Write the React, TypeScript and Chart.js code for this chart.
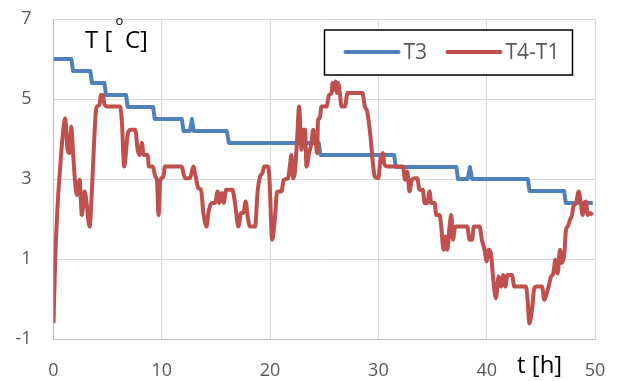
import { useEffect, useRef } from "react";
import { Chart, registerables } from "chart.js";

Chart.register(...registerables);

// ---- data ----
const seriesNames = ["T3", "T4-T1"];
const seriesColors = ["#4F81BD", "#C0504D"];

const hoursT3 = [
  0, 1.65, 1.8, 3.4, 3.55, 4.7, 4.85, 6.7, 6.85, 9.2, 9.35, 11.85, 12.0, 12.6, 12.78, 12.95,
  16.0, 16.2, 24.5, 24.65, 31.45, 31.6, 37.2, 37.35, 38.25, 38.45, 38.65, 43.8, 43.95, 47.15,
  47.3, 49.8,
];
const valuesT3 = [
  6.0, 6.0, 5.7, 5.7, 5.4, 5.4, 5.1, 5.1, 4.8, 4.8, 4.5, 4.5, 4.2, 4.2, 4.5, 4.2,
  4.2, 3.9, 3.9, 3.6, 3.6, 3.3, 3.3, 3.0, 3.0, 3.3, 3.0, 3.0, 2.7, 2.7,
  2.4, 2.4,
];

const hoursDiff = [
  0.0, 0.15, 0.37, 0.62, 0.87, 1.08, 1.3, 1.48, 1.64, 1.79, 2.0, 2.16, 2.41, 2.62, 2.87, 3.02,
  3.33, 3.55, 3.76, 3.95, 4.25, 4.38, 4.56, 4.72, 5.09, 6.16, 6.32, 6.53, 6.84, 7.09, 7.55,
  7.77, 7.95, 8.17, 8.32, 8.69, 8.81, 9.18, 9.4, 9.55, 9.7, 9.87, 10.15, 10.29, 11.83, 12.14,
  12.6, 12.91, 13.13, 13.37, 13.62, 13.84, 14.14, 14.3, 14.6, 14.91, 15.16, 15.31, 15.53,
  15.71, 15.93, 16.52, 16.76, 17.07, 17.32, 17.53, 17.75, 17.93, 18.15, 18.61, 18.86, 19.07,
  19.29, 19.47, 19.78, 19.93, 20.19, 20.43, 20.65, 21.05, 21.26, 21.66, 21.82, 21.97, 22.12,
  22.28, 22.49, 22.68, 22.9, 23.05, 23.23, 23.36, 23.6, 23.82, 23.97, 24.22, 24.34, 24.43,
  24.59, 24.74, 25.2, 25.45, 25.67, 25.76, 25.91, 26.04, 26.19, 26.28, 26.44, 26.59, 26.9,
  27.15, 28.53, 28.75, 28.96, 29.27, 29.52, 29.67, 29.98, 30.19, 30.41, 30.56, 30.87, 32.26,
  32.47, 32.66, 32.87, 33.09, 33.34, 33.58, 33.8, 34.11, 34.26, 34.51, 34.72, 34.88, 35.19,
  35.34, 35.65, 35.8, 36.02, 36.2, 36.36, 36.57, 36.73, 36.88, 37.1, 38.2, 38.42, 38.64,
  38.82, 39.34, 39.56, 39.8, 40.0, 40.17, 40.39, 40.61, 40.85, 41.1, 41.31, 41.53, 41.72,
  41.93, 42.33, 42.55, 43.62, 43.78, 43.93, 44.18, 44.4, 44.61, 45.1, 45.32, 45.54, 45.72,
  45.94, 46.15, 46.34, 46.55, 46.77, 46.95, 47.17, 47.32, 47.48, 47.69, 47.88, 48.0, 48.25,
  48.49, 48.65, 48.86, 49.02, 49.17, 49.32, 49.54, 49.79,
];
const valuesDiff = [
  -0.6, 0.9, 2.3, 3.3, 4.15, 4.52, 3.73, 3.65, 4.31, 3.73, 2.9, 2.6, 2.98, 2.1, 2.69, 2.48,
  1.81, 2.73, 3.98, 4.77, 4.86, 5.1, 5.1, 4.86, 4.81, 4.81, 4.4, 3.31, 4.1, 4.23, 4.23,
  3.73, 3.6, 3.9, 3.6, 3.6, 3.31, 3.31, 3.06, 2.98, 2.1, 2.98, 3.06, 3.31, 3.31, 3.02,
  3.02, 3.31, 3.06, 2.77, 2.73, 2.15, 1.81, 2.15, 2.4, 2.4, 2.69, 2.4, 2.65,
  2.4, 2.73, 2.73, 2.4, 1.81, 2.15, 2.15, 2.44, 2.06, 1.81, 1.81, 2.73, 3.06,
  3.15, 3.31, 3.31, 3.06, 1.48, 1.98, 2.69, 2.69, 2.98, 3.02, 3.31, 3.6, 3.02,
  3.15, 3.98, 4.81, 3.73, 4.23, 4.23, 3.31, 3.65, 3.9, 4.23, 3.9, 3.65, 4.48,
  4.52, 4.81, 4.81, 5.1, 5.15, 5.4, 5.23, 5.44, 5.15, 5.4, 5.15, 4.81, 4.81,
  5.15, 5.15, 4.81, 4.69, 4.06, 3.31, 3.06, 3.02, 3.48, 3.65, 3.36, 3.31, 3.31,
  2.98, 3.19, 2.69, 2.98, 3.02, 3.02, 2.73, 2.73, 2.4, 2.4, 2.69, 2.4, 2.4,
  2.1, 2.1, 1.81, 1.23, 1.56, 1.23, 1.81, 2.1, 1.48, 1.81, 1.81, 1.48, 1.48,
  1.81, 1.81, 1.48, 1.23, 0.94, 1.23, 1.14, 0.48, 0.02, 0.56, 0.31, 0.6, 0.31,
  0.6, 0.6, 0.31, 0.31, -0.02, -0.61, -0.27, 0.27, 0.31, 0.31, -0.02, 0.14, 0.31,
  0.56, 0.64, 0.98, 0.64, 1.23, 0.9, 1.14, 1.73, 1.81, 1.98, 2.1, 2.31, 2.4,
  2.69, 2.48, 2.1, 2.4, 2.44, 2.1, 2.15, 2.1,
];

const xTickValues = [0, 10, 20, 30, 40, 50];
const yTickValues = [-1, 1, 3, 5, 7];
const yTitleMain = "T [";
const yTitleSup = "o";
const yTitleEnd = "C]";
const xTitle = "t [h]";

const FONT = '"Open Sans", "Liberation Sans", sans-serif';

const overlayPlugin = {
  id: "overlay",
  afterDraw(chart: any) {
    const ctx = chart.ctx as CanvasRenderingContext2D;
    const { left, top, right, bottom } = chart.chartArea;
    ctx.save();
    // axis titles
    ctx.fillStyle = "#000000";
    ctx.textBaseline = "alphabetic";
    ctx.textAlign = "left";
    ctx.font = `24px ${FONT}`;
    ctx.fillText(yTitleMain, left + 31.5, top + 29);
    ctx.fillText(yTitleEnd, left + 71.5, top + 29);
    ctx.font = `13px ${FONT}`;
    ctx.fillText(yTitleSup, left + 62, top + 6);
    ctx.font = `24px ${FONT}`;
    ctx.fillText(xTitle, right - 78, bottom + 34);

    // legend box
    const bx = left + 271;
    const by = top + 11;
    const bw = 248;
    const bh = 45;
    ctx.fillStyle = "#ffffff";
    ctx.fillRect(bx, by, bw, bh);
    ctx.strokeStyle = "#000000";
    ctx.lineWidth = 1.5;
    ctx.strokeRect(bx, by, bw, bh);
    const ly = by + 22;
    const items = chart.data.datasets;
    const starts = [bx + 21, bx + 123];
    ctx.font = `21px ${FONT}`;
    ctx.textBaseline = "middle";
    items.forEach((ds: any, i: number) => {
      const sx = starts[i];
      ctx.strokeStyle = ds.borderColor;
      ctx.lineWidth = 4;
      ctx.lineCap = "round";
      ctx.beginPath();
      ctx.moveTo(sx, ly);
      ctx.lineTo(sx + 53, ly);
      ctx.stroke();
      ctx.fillStyle = "#595959";
      ctx.fillText(ds.label, sx + 58, ly + 1);
    });
    ctx.restore();
  },
};

export default function App() {
  const canvasRef = useRef<HTMLCanvasElement | null>(null);

  useEffect(() => {
    const canvas = canvasRef.current;
    if (!canvas) return;
    const chart = new Chart(canvas, {
      type: "line",
      data: {
        datasets: [
          {
            label: seriesNames[0],
            data: hoursT3.map((t, i) => ({ x: t, y: valuesT3[i] })),
            borderColor: seriesColors[0],
            borderWidth: 4,
            pointRadius: 0,
            tension: 0,
            fill: false,
            order: 2,
            borderJoinStyle: "round",
          },
          {
            label: seriesNames[1],
            data: hoursDiff.map((t, i) => ({ x: t, y: valuesDiff[i] })),
            borderColor: seriesColors[1],
            borderWidth: 4,
            pointRadius: 0,
            cubicInterpolationMode: "monotone",
            fill: false,
            order: 1,
            borderJoinStyle: "round",
          },
        ],
      },
      options: {
        animation: false,
        responsive: false,
        maintainAspectRatio: false,
        layout: { padding: { left: 0, right: 27, top: 19, bottom: 0 } },
        plugins: { legend: { display: false }, tooltip: { enabled: false } },
        scales: {
          x: {
            type: "linear",
            min: 0,
            max: 50,
            afterBuildTicks: (scale: any) => {
              scale.ticks = xTickValues.map((v) => ({ value: v }));
            },
            afterFit: (scale: any) => {
              scale.height = 42;
              scale.paddingLeft = 0;
              scale.paddingRight = 0;
            },
            grid: { color: "#D9D9D9", lineWidth: 1, drawTicks: false },
            border: { color: "#BFBFBF", width: 1 },
            ticks: {
              color: "#595959",
              font: { family: FONT, size: 18 },
              padding: 21,
              maxRotation: 0,
            },
          },
          y: {
            type: "linear",
            min: -1,
            max: 7,
            afterBuildTicks: (scale: any) => {
              scale.ticks = yTickValues.map((v) => ({ value: v }));
            },
            afterFit: (scale: any) => {
              scale.width = 53.5;
              scale.paddingTop = 0;
              scale.paddingBottom = 0;
            },
            grid: { color: "#D9D9D9", lineWidth: 1, drawTicks: false },
            border: { color: "#BFBFBF", width: 1 },
            ticks: {
              color: "#595959",
              font: { family: FONT, size: 18 },
              padding: 22,
            },
          },
        },
      },
      plugins: [overlayPlugin],
    } as any);
    return () => chart.destroy();
  }, []);

  return (
    <div style={{ position: "absolute", left: 0, top: 0, width: 622, height: 381, background: "#ffffff" }}>
      <canvas ref={canvasRef} width={622} height={381} style={{ display: "block" }} />
    </div>
  );
}
